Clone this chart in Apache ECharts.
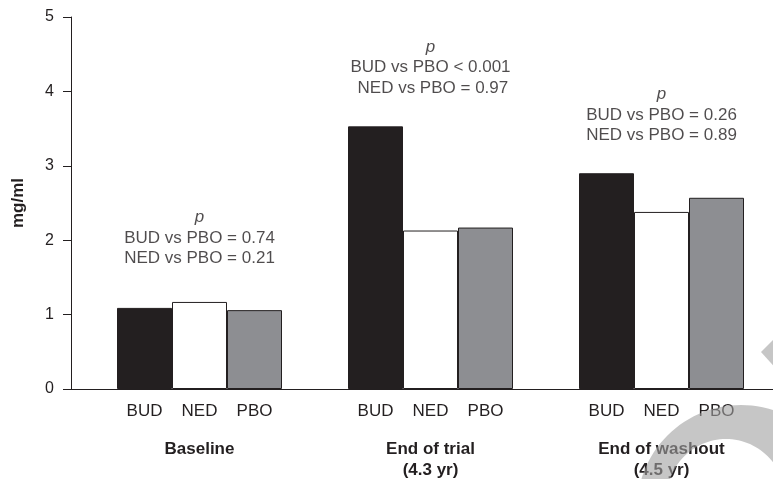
<!DOCTYPE html>
<html>
<head>
<meta charset="utf-8">
<script src="https://cdn.jsdelivr.net/npm/echarts@6/dist/echarts.min.js"></script>
<style>
html,body{margin:0;padding:0;background:#fff;}
#chart{width:773px;height:479px;}
</style>
</head>
<body>
<div id="chart"></div>
<script>
// ---- data ----
const groups = ['Baseline', 'End of trial\n(4.3 yr)', 'End of washout\n(4.5 yr)'];
const seriesNames = ['BUD', 'NED', 'PBO'];
const BUD = [1.09, 3.53, 2.90];
const NED = [1.17, 2.13, 2.38];
const PBO = [1.06, 2.17, 2.57];
const pLines1 = ['BUD vs PBO = 0.74', 'BUD vs PBO < 0.001', 'BUD vs PBO = 0.26'];
const pLines2 = ['NED vs PBO = 0.21', ' NED vs PBO = 0.97', 'NED vs PBO = 0.89'];
const pAnchor = [2.03, 4.32, 3.68];
const yMin = 0, yMax = 5, yInterval = 1;
const yName = 'mg/ml';

// ---- style ----
const ink = '#231f20';
const colors = ['#231f20', '#ffffff', '#8d8e92'];
const font = "'Liberation Sans', Arial, sans-serif";

// decorative watermark band (outer and inner circle, not concentric)
function bandPoints(oc, orad, ic, irad) {
  const pts = [];
  for (let a = 150; a <= 390; a += 3) {
    const t = a * Math.PI / 180;
    pts.push([oc[0] + orad * Math.cos(t), oc[1] + orad * Math.sin(t)]);
  }
  for (let a = 390; a >= 150; a -= 3) {
    const t = a * Math.PI / 180;
    pts.push([ic[0] + irad * Math.cos(t), ic[1] + irad * Math.sin(t)]);
  }
  return pts;
}

const chart = echarts.init(document.getElementById('chart'), null, {renderer: 'canvas'});

const values = [BUD, NED, PBO];
const barSeries = seriesNames.map((name, k) => ({
  name: name,
  type: 'bar',
  xAxisIndex: 1,
  yAxisIndex: 1,
  barWidth: 55,
  barGap: '0%',
  data: values[k],
  itemStyle: {color: colors[k], borderColor: ink, borderWidth: 1},
  label: {
    show: true,
    position: 'bottom',
    distance: 14,
    formatter: '{a}',
    fontSize: 17,
    fontFamily: font,
    color: ink
  },
  silent: true
}));

const annot = {
  type: 'scatter',
  xAxisIndex: 1,
  yAxisIndex: 1,
  symbolSize: 1,
  itemStyle: {color: 'rgba(0,0,0,0)'},
  silent: true,
  data: groups.map((g, i) => [i, pAnchor[i]]),
  label: {
    show: true,
    position: 'inside',
    align: 'center',
    verticalAlign: 'middle',
    fontSize: 17,
    lineHeight: 20.5,
    fontFamily: font,
    color: ink,
    formatter: p => '{p|p}\n' + pLines1[p.dataIndex] + '\n' + pLines2[p.dataIndex],
    rich: {
      p: {fontStyle: 'italic', fontSize: 17, lineHeight: 20.5, fontFamily: font, color: ink}
    }
  }
};

const option = {
  animation: false,
  backgroundColor: '#ffffff',
  textStyle: {fontFamily: font, color: ink},
  grid: [
    {left: 71, right: 0, top: 17, bottom: 90, containLabel: false, outerBoundsMode: 'none'},
    {left: 84, width: 693, top: 17, bottom: 90, containLabel: false, outerBoundsMode: 'none'}
  ],
  xAxis: [
    {
      gridIndex: 0, type: 'category', data: [''],
      axisLine: {show: true, lineStyle: {color: ink, width: 1}},
      axisTick: {show: false}, axisLabel: {show: false}, splitLine: {show: false}
    },
    {
      gridIndex: 1, type: 'category', data: groups,
      axisLine: {show: false}, axisTick: {show: false}, splitLine: {show: false},
      axisLabel: {
        interval: 0, margin: 50, fontSize: 17, fontWeight: 'bold', lineHeight: 21,
        fontFamily: font, color: ink
      }
    }
  ],
  yAxis: [
    {
      gridIndex: 0, type: 'value', min: yMin, max: yMax, interval: yInterval,
      name: yName, nameLocation: 'middle', nameGap: 44,
      nameTextStyle: {fontSize: 17, fontWeight: 'bold', fontFamily: font, color: ink},
      axisLine: {show: true, lineStyle: {color: ink, width: 1}},
      axisTick: {show: true, length: 8, lineStyle: {color: ink, width: 1}},
      axisLabel: {fontSize: 16, margin: 17, fontFamily: font, color: ink},
      splitLine: {show: false}
    },
    {
      gridIndex: 1, type: 'value', min: yMin, max: yMax, interval: yInterval,
      show: false, splitLine: {show: false}
    }
  ],
  series: barSeries.concat([annot]),
  graphic: [
    {
      type: 'polygon', z: 100, silent: true,
      shape: {points: bandPoints([741, 509], 104, [726, 498], 59)},
      style: {fill: 'rgba(160,160,160,0.6)'}
    },
    {
      type: 'polygon', z: 100, silent: true,
      shape: {points: [[761, 352], [790, 323], [790, 384]]},
      style: {fill: 'rgba(160,160,160,0.6)'}
    }
  ]
};
chart.setOption(option);
</script>
</body>
</html>
